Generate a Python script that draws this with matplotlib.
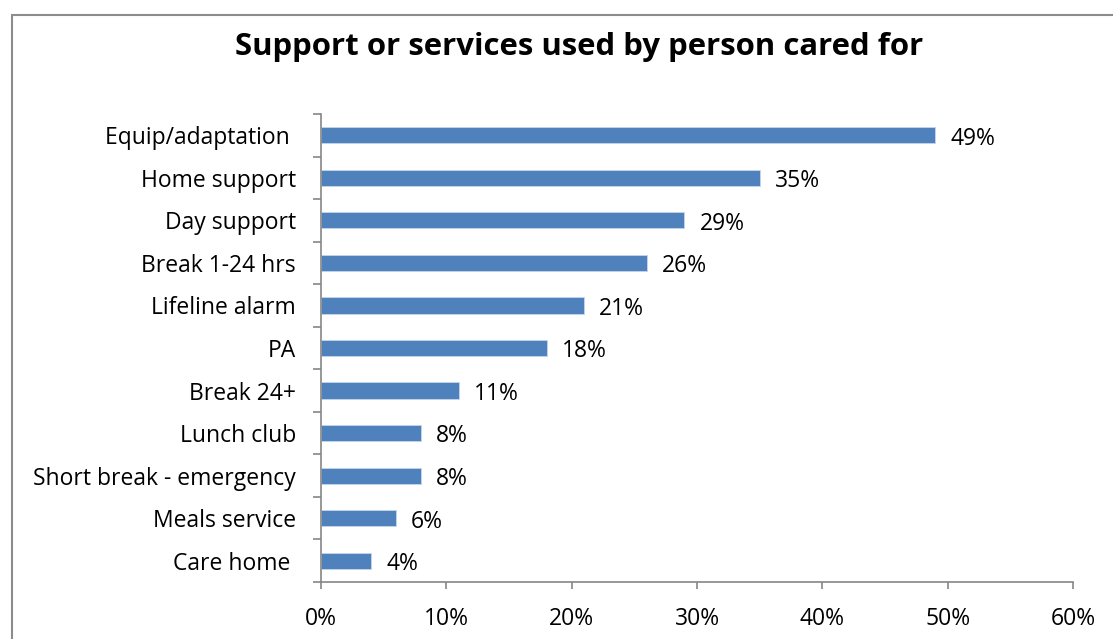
import matplotlib.pyplot as plt
from matplotlib.patches import Rectangle
from matplotlib.ticker import FixedLocator, PercentFormatter

services = ["Equip/adaptation ", "Home support", "Day support", "Break 1-24 hrs",
            "Lifeline alarm", "PA", "Break 24+", "Lunch club",
            "Short break - emergency", "Meals service", "Care home "]
percent_used = [49, 35, 29, 26, 21, 18, 11, 8, 8, 6, 4]
x_ticks = [0, 10, 20, 30, 40, 50, 60]

plt.rcParams["font.family"] = ["Open Sans", "DejaVu Sans"]
axis_grey = "#868686"
label_size = 16.5

fig = plt.figure(figsize=(11.13, 6.39), dpi=100)
ax = fig.add_axes([0.2884, 0.0892, 0.6757, 0.7324])

# outer chart frame, runs off the right and bottom edges
fig.patches.append(Rectangle((0.0108, -0.05), 1.1, 1.0265,
                             transform=fig.transFigure, fill=False,
                             edgecolor="#8c8c8c", linewidth=1.5))

ypos = list(range(len(services)))
ax.barh(ypos, percent_used, height=0.38, color="#4f81bd",
        edgecolor="#c6d6ea", linewidth=0.6)

for y, v in zip(ypos, percent_used):
    ax.text(v + 1.2, y + 0.08, f"{v}%", va="center", ha="left", fontsize=label_size)

ax.set_xlim(0, 60)
ax.set_ylim(len(services) - 0.5, -0.5)
ax.xaxis.set_major_locator(FixedLocator(x_ticks))
ax.xaxis.set_major_formatter(PercentFormatter(decimals=0))

# labels sit at bar centres, tick marks between categories
ax.set_yticks(ypos)
ax.set_yticklabels(services, fontsize=label_size)
ax.tick_params(axis="y", which="major", length=0, pad=18)
ax.set_yticks([i - 0.5 for i in range(len(services) + 1)], minor=True)
ax.tick_params(axis="y", which="minor", length=6, color=axis_grey, width=1.2)
ax.tick_params(axis="x", length=5, color=axis_grey, width=1.2,
               labelsize=label_size, pad=13)

for side in ["top", "right"]:
    ax.spines[side].set_visible(False)
for side in ["left", "bottom"]:
    ax.spines[side].set_color(axis_grey)
    ax.spines[side].set_linewidth(1.2)

fig.text(0.5207, 0.926, "Support or services used by person cared for",
         ha="center", va="center", fontsize=22.4, fontweight="bold")

fig.savefig("out.png", dpi=100)
